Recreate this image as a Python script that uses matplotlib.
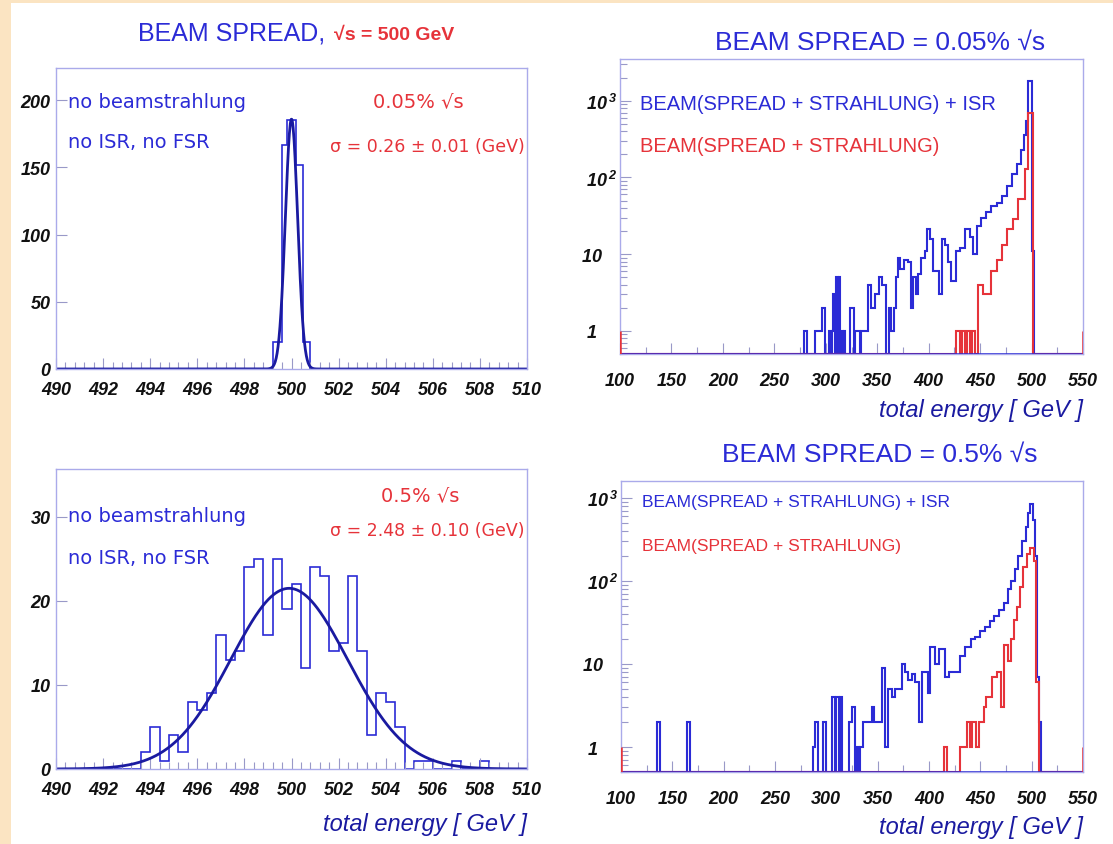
import numpy as np
import matplotlib.pyplot as plt
from matplotlib.patches import Rectangle
from matplotlib.ticker import MultipleLocator, LogLocator, NullFormatter

# ---- data -------------------------------------------------------------
# narrow spread, no radiation (variable-width steps, GeV)
tl_edges = [490, 499.2, 499.6, 499.83, 500.17, 500.47, 500.8, 510]
tl_counts = [0, 20, 167, 185, 152, 20, 0]
tl_fit = dict(amp=186.0, mean=500.0, sigma=0.26)

# wide spread, no radiation (0.4 GeV bins from 490 to 510)
bl_counts = [0, 0, 0, 0, 0, 0, 0, 0, 0, 2,
             5, 1, 4, 2, 8, 7, 9, 16, 13, 14,
             24, 25, 16, 25, 19, 22, 12, 24, 23, 14,
             15, 23, 14, 4, 9, 8, 5, 0, 1, 1,
             0, 0, 1, 0, 0, 1, 0, 0, 0, 0]
bl_fit = dict(amp=21.5, mean=499.9, sigma=2.48)

# total energy spectra with beamstrahlung: step start (GeV) -> entries
tr_blue_x = [100, 279, 281.5, 289.5, 296.5, 299.5, 303, 305, 306, 307.5,
             309, 310, 311.5, 312.5, 314, 315, 316.5, 317.5, 319, 324,
             327, 328.5, 333, 334.5, 341, 344, 347.5, 352, 354.5, 359,
             361, 363.5, 366, 368, 370, 372, 376, 380, 383, 385,
             387.5, 390, 393, 396, 398.5, 401, 404, 410, 412.5, 416,
             419, 422, 426.5, 430, 435, 440, 443, 446.5, 451, 456,
             461, 466, 471, 476, 481, 485.5, 490, 493, 495, 497,
             500.5, 502.5]
tr_blue_n = [0, 1, 0, 1, 2, 0, 1, 0, 1, 3,
             0, 5, 0, 5, 0, 1, 0, 1, 0, 2,
             0, 1, 0, 1, 4, 2, 3, 5, 4, 0,
             2, 1, 2, 5, 9, 6.5, 8.5, 8, 2, 5,
             3, 5.5, 9, 11, 21, 16, 6, 3, 16, 13,
             8, 4.5, 11, 12, 21, 17, 10, 23, 30, 35,
             42, 46, 57, 78, 110, 150, 230, 360, 540, 1800,
             11, 0]
tr_red_x = [100, 427, 430, 432, 435, 437, 440, 442, 445, 448,
            453, 461, 466, 471, 476, 482, 487, 493.5, 497, 501.5]
tr_red_n = [0, 1, 0, 1, 0, 1, 0, 1, 0, 4,
            3, 6, 8.5, 13, 21, 29, 53, 130, 690, 0]

br_blue_x = [100, 135.5, 138, 164.5, 167, 287, 289, 291.5, 297, 300,
             306, 308.5, 309.5, 312, 313, 315, 322, 325, 328, 329.5,
             331.5, 333, 336, 344, 346, 354, 357, 360.5, 364, 367,
             373.5, 377, 380, 383, 386.5, 390, 393, 399.5, 401, 406,
             409.5, 416, 419, 430.5, 435.5, 440.5, 445, 449.5, 454.5, 459,
             463, 468, 473, 477, 480, 483.5, 487, 490.5, 494, 496,
             498, 501, 503.5, 505.5, 507.5, 509]
br_blue_n = [0, 2, 0, 2, 0, 1, 2, 0, 2, 0,
             4, 0, 4, 0, 4, 0, 2, 3, 0, 1,
             0, 1, 2, 3, 2, 9, 1, 5, 4, 5,
             10, 8, 6.5, 7.5, 6, 2, 8, 4.5, 16, 10,
             15, 7, 8, 12.5, 16, 20, 21, 25, 28, 33,
             38, 45, 55, 80, 100, 140, 200, 300, 450, 650,
             850, 540, 200, 7, 2, 0]
br_red_x = [100, 414.5, 417.5, 430, 437, 440, 442, 445.5, 448.5, 453.5,
            456, 461, 466, 470, 473.5, 477, 480, 483, 486, 488.5,
            492, 495.5, 498.5, 502, 504.5, 507]
br_red_n = [0, 1, 0, 1, 2, 1, 2, 1, 2, 3,
            4, 7, 8, 3, 17, 11, 20, 34, 49, 84,
            146, 210, 250, 175, 6, 0]

# red marks at the histogram limits
red_edge_marks = [100, 550]

# ---- style ------------------------------------------------------------
W, H = 1113, 845
BLUE = '#2b2bd6'
DARKBLUE = '#1a1aa0'
RED = '#e6333a'
FRAME = '#aaaaea'
HELV = ['Liberation Sans', 'DejaVu Sans']
ROUND = ['DejaVu Sans']
plt.rcParams['mathtext.default'] = 'regular'

fig = plt.figure(figsize=(W / 100, H / 100), dpi=100)
fig.patch.set_facecolor('#fbe4c2')
fig.add_artist(Rectangle((11 / W, 0), 1, 1 - 4 / H, transform=fig.transFigure,
                         facecolor='white', edgecolor='none', zorder=0))

tick_font = dict(fontfamily=HELV, fontweight='bold', fontstyle='italic',
                 fontsize=13, color='#111111')


def panel(l, t, r, b):
    ax = fig.add_axes([l / W, 1 - b / H, (r - l) / W, (b - t) / H])
    for s in ax.spines.values():
        s.set_color(FRAME)
        s.set_linewidth(1.0)
    ax.tick_params(which='both', direction='in', color='#9999c8', width=0.8,
                   top=False, right=False)
    ax.tick_params(which='major', length=8)
    ax.tick_params(which='minor', length=5)
    return ax


def ftext(x, y, s, **kw):
    fig.text(x / W, 1 - y / H, s, va='center', **kw)


def gauss(x, amp, mean, sigma):
    return amp * np.exp(-0.5 * ((x - mean) / sigma) ** 2)


# ---- linear panels: beam spread only ----------------------------------
xfit = np.linspace(490, 510, 1000)


def linear_panel(ax, edges, counts, fit, yticks, ytop):
    ax.stairs(counts, edges, color=BLUE, lw=1.2, baseline=None)
    ax.plot(xfit, gauss(xfit, **fit), color=DARKBLUE, lw=2.0)
    ax.set_xlim(490, 510)
    ax.set_ylim(0, ytop)
    ax.xaxis.set_minor_locator(MultipleLocator(0.4))
    ax.set_xticks(np.arange(490, 511, 2), [str(v) for v in range(490, 511, 2)], **tick_font)
    ax.set_yticks(yticks, [str(v) for v in yticks], **tick_font)
    ax.tick_params(axis='x', pad=9)
    ax.tick_params(axis='y', pad=4)


ax1 = panel(56, 69, 527, 370)
linear_panel(ax1, tl_edges, tl_counts, tl_fit, [0, 50, 100, 150, 200], 224)

ax3 = panel(56, 470, 527, 770)
bl_edges = np.linspace(490, 510, len(bl_counts) + 1)
linear_panel(ax3, bl_edges, bl_counts, bl_fit, [0, 10, 20, 30], 35.7)

# ---- log panels: spread + beamstrahlung (+ ISR) ------------------------
YMIN = 0.5
log_labels = ['1    ', '10   ', '10$^{\\,2}$', '10$^{\\,3}$']


def log_panel(ax, bx, bn, rx, rn, ytop):
    b_edges = bx + [550]
    r_edges = rx + [550]
    ax.stairs(np.maximum(bn, YMIN), b_edges, color=BLUE, lw=1.5, baseline=None, zorder=3)
    ax.stairs(np.maximum(rn, YMIN), r_edges, color=RED, lw=1.5, baseline=None, zorder=4)
    ax.hlines(YMIN * 1.01, 100, 550, color=BLUE, lw=1.8, zorder=5)
    ax.vlines(red_edge_marks, YMIN, 1, color=RED, lw=1.8, zorder=6)
    ax.set_yscale('log')
    ax.set_xlim(100, 550)
    ax.set_ylim(YMIN, ytop)
    ax.xaxis.set_minor_locator(MultipleLocator(25))
    ax.set_xticks(np.arange(100, 551, 50), [str(v) for v in range(100, 551, 50)], **tick_font)
    ax.set_yticks([1, 10, 100, 1000], log_labels, **tick_font)
    ax.yaxis.set_minor_locator(LogLocator(base=10, subs=np.arange(2, 10)))
    ax.yaxis.set_minor_formatter(NullFormatter())
    ax.tick_params(axis='x', pad=13)
    ax.tick_params(axis='y', pad=2)


ax2 = panel(620, 60, 1083, 355)
log_panel(ax2, tr_blue_x, tr_blue_n, tr_red_x, tr_red_n, 3500)

ax4 = panel(621, 482, 1083, 773)
log_panel(ax4, br_blue_x, br_blue_n, br_red_x, br_red_n, 1600)

# ---- titles and annotations -------------------------------------------
ftext(138, 33, 'BEAM SPREAD,', ha='left', color=BLUE, fontsize=18, family=HELV)
ftext(334, 35, '\u221as = 500 GeV', ha='left', color=RED, fontsize=14,
      fontweight='bold', family=HELV)
ftext(880, 43, 'BEAM SPREAD = 0.05% \u221as', ha='center', color=BLUE, fontsize=19, family=HELV)
ftext(880, 455, 'BEAM SPREAD = 0.5% \u221as', ha='center', color=BLUE, fontsize=19, family=HELV)

for y0 in (0, 415):
    ftext(68, 102 + y0, 'no beamstrahlung', ha='left', color=BLUE, fontsize=14, family=ROUND)
    ftext(68, 143 + y0, 'no ISR, no FSR', ha='left', color=BLUE, fontsize=14, family=ROUND)
ftext(418, 102, '0.05% \u221as', ha='center', color=RED, fontsize=14, family=ROUND)
ftext(525, 147, '\u03c3 = 0.26 \u00b1 0.01 (GeV)', ha='right', color=RED, fontsize=12.5, family=ROUND)
ftext(420, 496, '0.5% \u221as', ha='center', color=RED, fontsize=14, family=ROUND)
ftext(525, 531, '\u03c3 = 2.48 \u00b1 0.10 (GeV)', ha='right', color=RED, fontsize=12.5, family=ROUND)

ftext(640, 104, 'BEAM(SPREAD + STRAHLUNG) + ISR', ha='left', color=BLUE, fontsize=14.5, family=HELV)
ftext(640, 147, 'BEAM(SPREAD + STRAHLUNG)', ha='left', color=RED, fontsize=14.5, family=HELV)
ftext(642, 503, 'BEAM(SPREAD + STRAHLUNG) + ISR', ha='left', color=BLUE, fontsize=12.5, family=HELV)
ftext(642, 547, 'BEAM(SPREAD + STRAHLUNG)', ha='left', color=RED, fontsize=12.5, family=HELV)

for x_right, y in [(1083, 410), (1083, 828), (527, 825)]:
    ftext(x_right, y, 'total energy [ GeV ]', ha='right', color=DARKBLUE, fontsize=17,
          fontstyle='italic', family=HELV)

fig.savefig('out.png', dpi=100, facecolor=fig.get_facecolor())
